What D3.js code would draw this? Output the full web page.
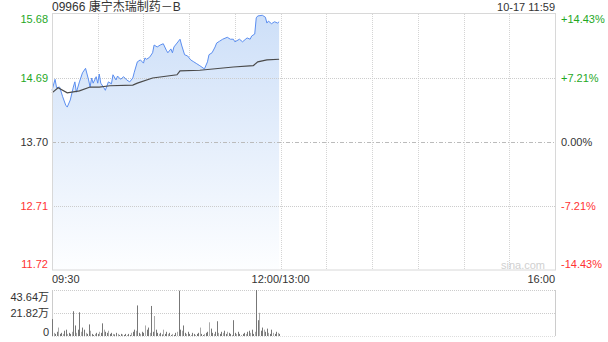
<!DOCTYPE html>
<html>
<head>
<meta charset="utf-8">
<script src="https://cdn.jsdelivr.net/npm/d3@7"></script>
<style>
  body { margin: 0; background: #fff; }
  svg text { font-family: "Liberation Sans", Arial, sans-serif; font-size: 11px; }
</style>
</head>
<body>
<div class="container"></div>
<script>
var title = '09966 康宁杰瑞制药－B',
    stamp = '10-17 11:59',
    preClose = 13.70;

// left price ticks / right percent ticks
var priceTicks = [15.68, 14.69, 13.70, 12.71, 11.72],
    pctTicks = ['+14.43%', '+7.21%', '0.00%', '-7.21%', '-14.43%'],
    timeTicks = [[0, '09:30'], [150, '12:00/13:00'], [330, '16:00']],
    volTicks = [[43.64, '43.64万'], [21.82, '21.82万'], [0, '0']];

// minute offset from 09:30 and price
var priceMin = [0, 2, 3, 5, 7, 9, 10, 12, 14, 15, 16, 18, 20, 22, 24, 25, 26, 27, 29, 30,
    31, 32, 34, 35, 37, 39, 40, 42, 43, 45, 47, 49, 51, 53, 54, 56, 58, 60, 61, 62,
    64, 66, 67, 69, 71, 73, 75, 76, 78, 79, 80, 82, 84, 85, 87, 89, 91, 93, 95, 97,
    100, 102, 103, 105, 107, 108, 110, 112, 115, 117, 119, 120, 123, 125, 128, 130, 131, 133, 134, 135,
    138, 140, 141, 142, 144, 146, 148, 149];
var price = [14.50, 14.67, 14.54, 14.55, 14.40, 14.27, 14.24, 14.35, 14.55, 14.63, 14.47, 14.63, 14.77, 14.84, 14.66, 14.55, 14.69, 14.61, 14.71, 14.61,
    14.75, 14.61, 14.54, 14.50, 14.63, 14.60, 14.74, 14.66, 14.72, 14.67, 14.71, 14.66, 14.63, 14.69, 14.78, 14.94, 14.97, 14.92, 15.00, 14.98,
    15.01, 15.08, 15.20, 15.17, 15.20, 15.22, 15.12, 15.08, 15.14, 15.08, 15.17, 15.23, 15.29, 15.20, 15.05, 15.03, 14.97, 14.94, 14.91, 14.88,
    14.83, 14.94, 15.05, 15.08, 15.17, 15.23, 15.26, 15.29, 15.32, 15.29, 15.29, 15.25, 15.29, 15.25, 15.31, 15.29, 15.34, 15.37, 15.62, 15.65,
    15.66, 15.63, 15.54, 15.57, 15.53, 15.56, 15.54, 15.56];

// average price line
var avgMin = [0, 4, 10, 18, 25, 31, 38, 53, 56, 66, 82, 84, 97, 119, 132, 135, 141, 149];
var avgPrice = [14.46, 14.54, 14.46, 14.49, 14.55, 14.55, 14.57, 14.58, 14.61, 14.69, 14.74, 14.80, 14.81, 14.86, 14.88, 14.94, 14.97, 14.98];

// volume per minute, in 万
var volume = [16, 3, 2, 4, 8, 2, 3, 2, 5, 6,
    2, 3, 2, 4, 23.5, 10, 3, 6, 22.5, 4,
    8, 6, 3, 2, 11, 5, 2, 1, 2, 3,
    2, 4, 3, 12, 6, 4, 3, 5, 2, 3,
    2, 1.5, 3, 2, 1, 2, 1.5, 1, 2, 1,
    2, 1, 3, 4, 6, 5, 29, 3, 2, 4,
    3, 10, 6, 8, 3, 28.5, 4, 19, 6, 3,
    2, 3, 1.5, 6, 2, 4, 2, 3, 1, 2,
    1, 3, 4, 43, 6, 5, 10, 3, 2, 4,
    2, 1, 3, 2, 1, 2, 3, 8, 2, 1,
    2, 3, 4, 13, 7, 3, 2, 4, 14, 3,
    2, 4, 3, 5, 2, 4, 3, 2, 1, 15,
    3, 2, 4, 2, 1, 2, 3, 2, 4, 5,
    3, 6, 2, 4, 43.6, 15, 22, 5, 8, 6,
    4, 7, 3, 2, 6, 3, 2, 4, 3, 2];

var W = 608, H = 342,
    plotLeft = 52, plotRight = 555,
    plotTop = 14, plotBottom = 270,
    vTop = 290, vBottom = 336,
    green = '#1fa81f', red = '#f33';

var svg = d3.select('.container').append('svg').attr('width', W).attr('height', H);

var x = d3.scaleLinear().domain([0, 330]).range([plotLeft, plotRight]);
var y = d3.scaleLinear().domain([11.72, 15.68]).range([plotBottom, plotTop]);
var yv = d3.scaleLinear().domain([0, 43.64]).range([vBottom, vTop]);

// gradient for area
var grad = svg.append('defs').append('linearGradient')
    .attr('id', 'fillGrad').attr('gradientUnits', 'userSpaceOnUse')
    .attr('x1', 0).attr('y1', plotTop).attr('x2', 0).attr('y2', plotBottom);
grad.append('stop').attr('offset', '0%').attr('stop-color', '#cddff8');
grad.append('stop').attr('offset', '100%').attr('stop-color', '#fdfeff');

// vertical grid lines every 30 min
var vgrid = d3.range(30, 330, 30);
svg.selectAll('.vg').data(vgrid).enter().append('line')
    .attr('x1', function (d) { return Math.round(x(d)) + 0.5; })
    .attr('x2', function (d) { return Math.round(x(d)) + 0.5; })
    .attr('y1', plotTop).attr('y2', plotBottom)
    .attr('stroke', '#d4d4d4').attr('stroke-dasharray', '1,1');

// area + price line
var pts = priceMin.map(function (m, i) { return [m, price[i]]; });
svg.append('path').datum(pts)
    .attr('d', d3.area().x(function (d) { return x(d[0]); }).y0(plotBottom).y1(function (d) { return y(d[1]); }))
    .attr('fill', 'url(#fillGrad)');

// horizontal grid
[14.69, 12.71].forEach(function (v) {
    svg.append('line').attr('x1', plotLeft).attr('x2', plotRight)
        .attr('y1', Math.round(y(v)) + 0.5).attr('y2', Math.round(y(v)) + 0.5)
        .attr('stroke', '#ccc').attr('stroke-dasharray', '1,1');
});
svg.append('line').attr('x1', plotLeft).attr('x2', plotRight)
    .attr('y1', Math.round(y(preClose)) + 0.5).attr('y2', Math.round(y(preClose)) + 0.5)
    .attr('stroke', '#bbb').attr('stroke-dasharray', '4,2,1,2');

svg.append('path').datum(pts)
    .attr('d', d3.line().x(function (d) { return x(d[0]); }).y(function (d) { return y(d[1]); }))
    .attr('fill', 'none').attr('stroke', '#5b8ef0').attr('stroke-width', 1);

var avgPts = avgMin.map(function (m, i) { return [m, avgPrice[i]]; });
svg.append('path').datum(avgPts)
    .attr('d', d3.line().x(function (d) { return x(d[0]); }).y(function (d) { return y(d[1]); }))
    .attr('fill', 'none').attr('stroke', '#4a4a4a').attr('stroke-width', 1.2);

// plot border
svg.append('rect').attr('x', plotLeft + 0.5).attr('y', plotTop - 0.5)
    .attr('width', plotRight - plotLeft).attr('height', plotBottom - plotTop + 0.5)
    .attr('fill', 'none').attr('stroke', '#d8d8d8');

// sina watermark
svg.append('text').attr('x', 545).attr('y', 269).attr('text-anchor', 'end')
    .attr('fill', '#d0d0d0').text('sina.com');

// title line
svg.append('text').attr('x', plotLeft).attr('y', 11)
    .style('font-family', '"Liberation Sans", "Noto Sans CJK SC", sans-serif').style('font-size', '12px')
    .attr('fill', '#333').text(title);
svg.append('text').attr('x', plotRight).attr('y', 11).attr('text-anchor', 'end')
    .attr('fill', '#333').text(stamp);

// left price labels
var labelY = [23, 82, 146, 210, 268];
function tickColor(v) {
    return v > preClose ? green : (v < preClose ? red : '#333');
}
svg.selectAll('.pl').data(priceTicks).enter().append('text')
    .attr('x', 48).attr('y', function (d, i) { return labelY[i]; })
    .attr('text-anchor', 'end').attr('fill', tickColor)
    .text(function (d) { return d.toFixed(2); });
svg.selectAll('.pr').data(pctTicks).enter().append('text')
    .attr('x', 561).attr('y', function (d, i) { return labelY[i]; })
    .attr('fill', function (d, i) { return tickColor(priceTicks[i]); })
    .text(function (d) { return d; });

// time labels
svg.selectAll('.tl').data(timeTicks).enter().append('text')
    .attr('x', function (d) { return x(d[0]); }).attr('y', 283)
    .attr('text-anchor', function (d, i) { return i === 0 ? 'start' : (i === 2 ? 'end' : 'middle'); })
    .attr('fill', '#333').text(function (d) { return d[1]; });

// volume panel
svg.append('line').attr('x1', plotLeft).attr('x2', plotRight).attr('y1', vTop + 0.5).attr('y2', vTop + 0.5)
    .attr('stroke', '#ccc').attr('stroke-dasharray', '1,1');
svg.append('line').attr('x1', plotLeft).attr('x2', plotRight).attr('y1', yv(21.82) + 0.5).attr('y2', yv(21.82) + 0.5)
    .attr('stroke', '#ccc').attr('stroke-dasharray', '1,1');
svg.append('line').attr('x1', plotLeft).attr('x2', plotRight).attr('y1', vBottom + 0.5).attr('y2', vBottom + 0.5)
    .attr('stroke', '#ddd').attr('stroke-dasharray', '1,1');
svg.append('line').attr('x1', plotLeft + 0.5).attr('x2', plotLeft + 0.5).attr('y1', vTop).attr('y2', vBottom)
    .attr('stroke', '#ccc');
svg.append('line').attr('x1', plotRight + 0.5).attr('x2', plotRight + 0.5).attr('y1', vTop).attr('y2', vBottom)
    .attr('stroke', '#ccc');

svg.selectAll('.vb').data(volume).enter().append('rect')
    .attr('x', function (d, i) { return Math.round(x(i)); })
    .attr('width', 1)
    .attr('y', function (d) { return yv(d); })
    .attr('height', function (d) { return vBottom - yv(d); })
    .attr('fill', function (d, i) { return i % 3 === 1 ? '#aaa' : '#777'; });

var volLabelY = [301, 317, 336];
svg.selectAll('.vl').data(volTicks).enter().append('text')
    .attr('x', 49).attr('y', function (d, i) { return volLabelY[i]; })
    .attr('text-anchor', 'end').attr('fill', '#333')
    .style('font-family', '"Liberation Sans", "Noto Sans CJK SC", sans-serif')
    .text(function (d) { return d[1]; });
</script>
</body>
</html>
